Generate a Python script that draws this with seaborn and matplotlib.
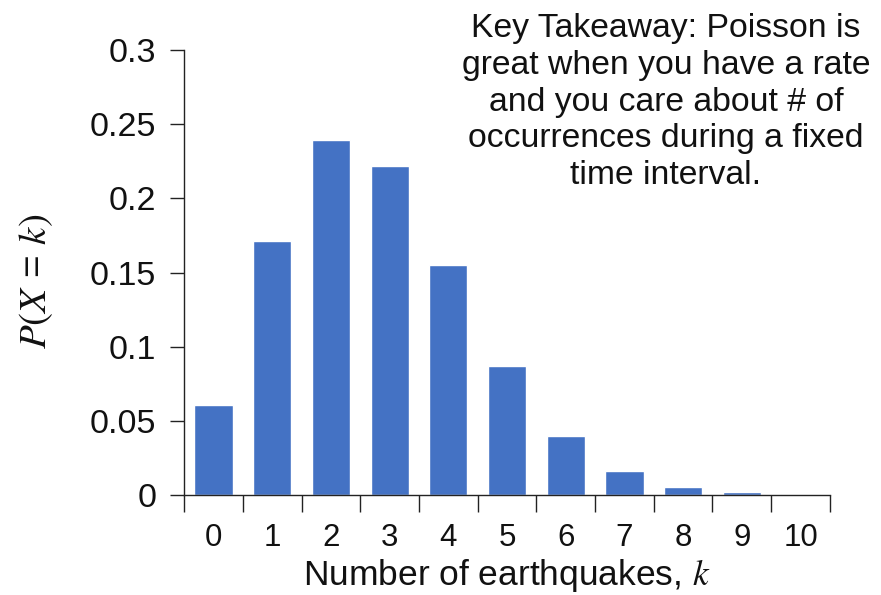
import matplotlib
matplotlib.use("Agg")
import matplotlib.pyplot as plt
from matplotlib.ticker import FixedLocator
import seaborn as sns
import pandas as pd

# Poisson probabilities for the number of earthquakes
k_values = ["0", "1", "2", "3", "4", "5", "6", "7", "8", "9", "10"]
probabilities = [0.061, 0.171, 0.239, 0.222, 0.155, 0.087, 0.040, 0.016, 0.0057, 0.0018, 0.0005]
y_ticks = [0, 0.05, 0.1, 0.15, 0.2, 0.25, 0.3]
y_tick_labels = ["0", "0.05", "0.1", "0.15", "0.2", "0.25", "0.3"]

df = pd.DataFrame({"k": k_values, "p": probabilities})

sns.set_theme(style="white")
plt.rcParams["font.family"] = ["Liberation Sans", "DejaVu Sans"]
plt.rcParams["mathtext.fontset"] = "stix"

fig = plt.figure(figsize=(8.81, 5.95), dpi=100)
ax = fig.add_axes([0.209, 0.168, 0.733, 0.748])

sns.barplot(data=df, x="k", y="p", color="#4472C4", saturation=1, width=0.65, ax=ax)

ax.set_xlim(-0.5, len(k_values) - 0.5)
ax.set_ylim(0, 0.3)

# y axis
ax.set_yticks(y_ticks)
ax.set_yticklabels(y_tick_labels, fontsize=24.5)
ax.tick_params(axis="y", which="major", direction="out", length=10, width=1, color="#222222",
               pad=10, left=True, labelcolor="#111111")

# x axis: labels at bar centres, tick marks at category boundaries
ax.set_xticks(range(len(k_values)))
ax.set_xticklabels(k_values, fontsize=22.5)
ax.xaxis.set_minor_locator(FixedLocator([i - 0.5 for i in range(len(k_values) + 1)]))
ax.tick_params(axis="x", which="major", length=0, pad=20, labelcolor="#111111")
ax.tick_params(axis="x", which="minor", direction="out", length=12, width=1,
               color="#222222", bottom=True)

for side in ["top", "right"]:
    ax.spines[side].set_visible(False)
for side in ["left", "bottom"]:
    ax.spines[side].set_color("#222222")
    ax.spines[side].set_linewidth(1)

ax.set_xlabel("Number of earthquakes, $k$", fontsize=25.5, color="#111111")
ax.xaxis.set_label_coords(0.5, -0.14)
ax.set_ylabel(r"$P(X$ = $k)$", fontsize=28, color="#111111")
ax.yaxis.set_label_coords(-0.2, 0.479)

fig.text(0.756, 0.978,
         "Key Takeaway: Poisson is\ngreat when you have a rate\nand you care about # of\n"
         "occurrences during a fixed\ntime interval.",
         ha="center", va="top", fontsize=24.3, linespacing=1.24, color="#111111")

fig.savefig("out.png", dpi=100, facecolor="white")
